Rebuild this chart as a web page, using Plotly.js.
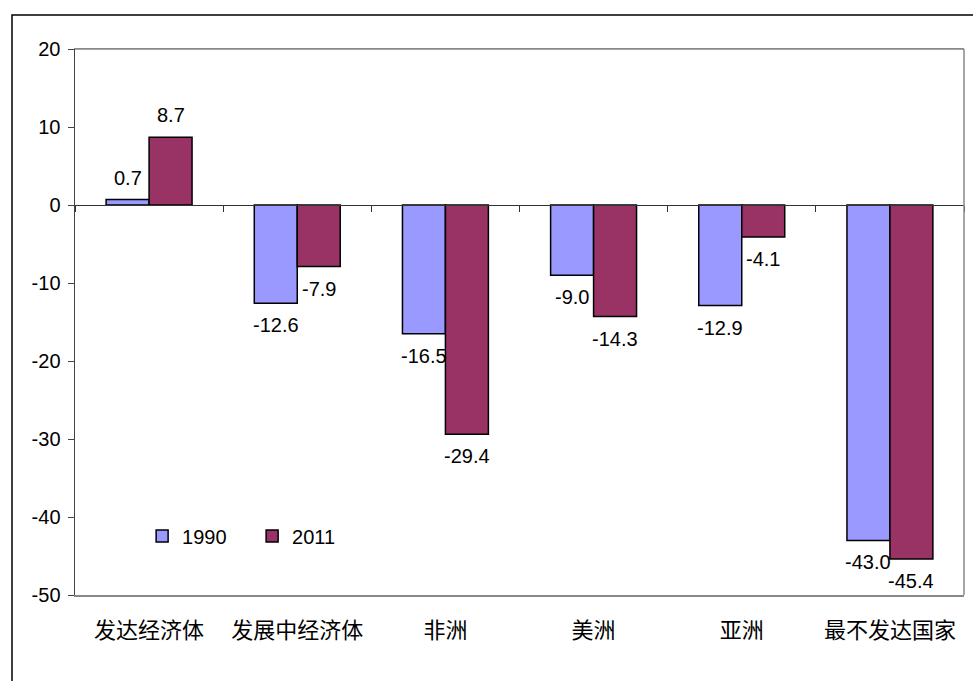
<!DOCTYPE html>
<html>
<head>
<meta charset="utf-8">
<script src="https://cdn.plot.ly/plotly-3.0.1.min.js"></script>
<style>html,body{margin:0;padding:0;background:#fff;}#chart{width:973px;height:681px;}</style>
</head>
<body>
<div id="chart"></div>
<script>
const categories = ["发达经济体", "发展中经济体", "非洲", "美洲", "亚洲", "最不发达国家"];
const values1990 = [0.7, -12.6, -16.5, -9.0, -12.9, -43.0];
const values2011 = [8.7, -7.9, -29.4, -14.3, -4.1, -45.4];
const seriesNames = ["1990", "2011"];
const yTicks = [20, 10, 0, -10, -20, -30, -40, -50];

const font = "Liberation Sans, Arial, sans-serif";
function mk(name, vals, color) {
  return {
    type: "bar", name: name, x: categories, y: vals,
    marker: {color: color, line: {color: "#000", width: 1.5}},
    xaxis: "x", yaxis: "y", hoverinfo: "skip"
  };
}
const data = [mk(seriesNames[0], values1990, "#9999FF"), mk(seriesNames[1], values2011, "#993366"),
  {type: "scatter", x: categories, y: categories.map(() => 0), xaxis: "x2", yaxis: "y", mode: "none", showlegend: false, hoverinfo: "skip"}];

// value labels placed at each bar end, through the axes
const annotations = [];
[[values1990, -21.5], [values2011, 21.5]].forEach(([vals, dx]) => {
  vals.forEach((v, i) => {
    annotations.push({
      xref: "x", yref: "y", x: categories[i], y: v, text: v.toFixed(1), showarrow: false,
      xshift: dx, yshift: v >= 0 ? 10 : -10, yanchor: v >= 0 ? "bottom" : "top", xanchor: "center",
      borderpad: 0, font: {family: font, size: 20, color: "#000"}
    });
  });
});

const layout = {
  width: 973, height: 681,
  margin: {l: 75, r: 9, t: 49, b: 86},
  paper_bgcolor: "#fff", plot_bgcolor: "#fff",
  barmode: "group", bargap: 0.42, bargroupgap: 0,
  showlegend: true,
  legend: {orientation: "h", x: 0.0755, y: 0.108, yanchor: "middle", xanchor: "left",
    font: {family: font, size: 20, color: "#000"}, bgcolor: "rgba(0,0,0,0)", itemwidth: 30, entrywidth: 65},
  xaxis: {type: "category", range: [-0.5, 5.5], showgrid: false, zeroline: false,
    showline: true, linecolor: "#888", linewidth: 1.5, mirror: true, ticks: "",
    tickfont: {family: "Noto Sans CJK SC, sans-serif", size: 22, color: "#000"}, ticklabelstandoff: 15},
  xaxis2: {type: "category", overlaying: "x", anchor: "free", position: 50/70, range: [-0.5, 5.5],
    showgrid: false, zeroline: false, showline: true, linecolor: "#333", linewidth: 1,
    ticks: "outside", ticklen: 6, tickcolor: "#333", tickson: "boundaries", showticklabels: false},
  yaxis: {range: [-50, 20], tickvals: yTicks, ticktext: yTicks.map(String), showgrid: false, zeroline: false,
    showline: true, linecolor: "#444", linewidth: 1.5, mirror: false, ticks: "outside", ticklen: 6, tickcolor: "#444",
    tickfont: {family: font, size: 20, color: "#000"}, ticklabelstandoff: 3},
  annotations: annotations,
  shapes: [
    {type: "line", xref: "paper", yref: "paper", x0: 0, x1: 1, y0: 1, y1: 1, line: {color: "#888", width: 1.5}},
    {type: "line", xref: "paper", yref: "paper", x0: 1, x1: 1, y0: 0, y1: 1, line: {color: "#888", width: 1.5}},
    {type: "rect", xref: "paper", yref: "paper", x0: (12-75)/889, x1: 1.05, y0: -0.3, y1: (595-15)/546,
     line: {color: "#000", width: 1.5}, fillcolor: "rgba(0,0,0,0)", layer: "below"}
  ]
};
Plotly.newPlot("chart", data, layout, {staticPlot: true, displayModeBar: false});
</script>
</body>
</html>
